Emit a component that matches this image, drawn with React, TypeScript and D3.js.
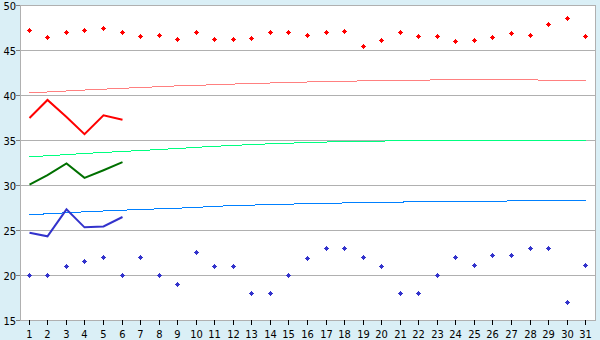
import React from "react";
import * as d3 from "d3";

const days = [1,2,3,4,5,6,7,8,9,10,11,12,13,14,15,16,17,18,19,20,21,22,23,24,25,26,27,28,29,30,31];
const yTicks = [15, 20, 25, 30, 35, 40, 45, 50];

const redPoints = [47.2,46.4,47.0,47.2,47.4,47.0,46.6,46.7,46.2,47.0,46.2,46.2,46.3,47.0,47.0,46.7,47.0,47.1,45.5,46.1,47.0,46.6,46.6,46.0,46.1,46.4,46.9,46.7,47.9,48.5,46.5];
const bluePoints = [20,20,21,21.5,22,20,22,20,19,22.5,21,21,18,18,20,21.9,23,23,22,21,18,18,20,22,21.1,22.2,22.2,23,23,17,21.1];

const redLine = [37.5,39.5,37.6,35.7,37.8,37.3];
const greenLine = [30.1,31.15,32.45,30.85,31.7,32.6];
const blueLine = [24.75,24.35,27.35,25.35,25.45,26.5];

const redTrend = [40.30,40.39,40.50,40.61,40.70,40.80,40.89,40.98,41.07,41.13,41.20,41.27,41.33,41.39,41.44,41.50,41.54,41.59,41.62,41.66,41.69,41.71,41.73,41.74,41.76,41.76,41.74,41.73,41.71,41.69,41.66];
const greenTrend = [33.19,33.31,33.43,33.56,33.67,33.78,33.89,34.00,34.11,34.24,34.36,34.44,34.56,34.63,34.70,34.78,34.83,34.89,34.92,34.94,34.96,34.97,34.98,34.98,34.98,34.98,34.98,34.97,34.97,34.96,34.95];
const blueTrend = [26.74,26.86,26.97,27.08,27.17,27.26,27.33,27.41,27.48,27.56,27.69,27.76,27.82,27.89,27.93,27.98,28.02,28.06,28.09,28.12,28.16,28.19,28.21,28.23,28.26,28.27,28.28,28.29,28.30,28.30,28.30];

const W = 600, H = 340;
const left = 20, right = 595, top = 5, bottom = 320;

const FONT = "'DejaVu Sans Condensed', 'DejaVu Sans', sans-serif";
const GRID = "#b0b0b0";

const MARKER = "M-0.5,-2.5h1v1h1v1h1v1h-1v1h-1v1h-1v-1h-1v-1h-1v-1h1v-1h1z";

export default function App() {
  const x = d3.scalePoint<number>().domain(days).range([left, right]).padding(0.5);
  const y = d3.scaleLinear().domain([15, 50]).range([bottom + 0.5, top + 0.5]);

  const px = (d: number) => Math.floor(x(d)!) + 0.5;

  const line = d3
    .line<number>()
    .x((_, i) => px(days[i]))
    .y((v) => y(v));

  const trendLine = d3
    .line<number>()
    .x((_, i) => x(days[i])!)
    .y((v) => y(v));

  const markers = (vals: number[], color: string) =>
    vals.map((v, i) => (
      <path
        key={i}
        d={MARKER}
        transform={`translate(${px(days[i])},${Math.floor(y(v)) + 0.5})`}
        fill={color}
        shapeRendering="crispEdges"
      />
    ));

  return (
    <svg width={W} height={H} style={{ position: "absolute", left: 0, top: 0, display: "block" }}>
      <rect x={0} y={0} width={W} height={H} fill="#daeff6" />
      <rect x={left} y={top} width={right - left} height={bottom - top} fill="#ffffff" />

      {yTicks.map((t) => (
        <g key={t}>
          <line x1={left} x2={right} y1={Math.floor(y(t)) + 0.5} y2={Math.floor(y(t)) + 0.5} stroke={GRID} strokeWidth={1} />
          <line x1={left - 4} x2={left} y1={Math.floor(y(t)) + 0.5} y2={Math.floor(y(t)) + 0.5} stroke="#808080" strokeWidth={1} />
          <text x={16} y={Math.floor(y(t)) + 5} textAnchor="end" fontFamily={FONT} fontSize={11} fill="#000">
            {t}
          </text>
        </g>
      ))}

      <line x1={left + 0.5} x2={left + 0.5} y1={top} y2={bottom + 1} stroke={GRID} strokeWidth={1} />
      <line x1={right + 0.5} x2={right + 0.5} y1={top} y2={bottom + 1} stroke={GRID} strokeWidth={1} />
      <line x1={left} x2={right + 1} y1={bottom + 0.5} y2={bottom + 0.5} stroke={GRID} strokeWidth={1} />

      {days.map((d) => (
        <g key={d}>
          <line x1={px(d)} x2={px(d)} y1={bottom} y2={bottom + 5} stroke="#000" strokeWidth={1} />
          <text x={px(d)} y={338} textAnchor="middle" fontFamily={FONT} fontSize={11} fill="#000">
            {d}
          </text>
        </g>
      ))}

      <path d={trendLine(redTrend)!} fill="none" stroke="#ff8080" strokeWidth={1} shapeRendering="crispEdges" />
      <path d={trendLine(greenTrend)!} fill="none" stroke="#00ff80" strokeWidth={1} shapeRendering="crispEdges" />
      <path d={trendLine(blueTrend)!} fill="none" stroke="#0080ff" strokeWidth={1} shapeRendering="crispEdges" />

      <path d={line(redLine)!} fill="none" stroke="#ff0000" strokeWidth={2} />
      <path d={line(greenLine)!} fill="none" stroke="#007000" strokeWidth={2} />
      <path d={line(blueLine)!} fill="none" stroke="#3333cc" strokeWidth={2} />

      {markers(redPoints, "#ff0000")}
      {markers(bluePoints, "#3333cc")}
    </svg>
  );
}
